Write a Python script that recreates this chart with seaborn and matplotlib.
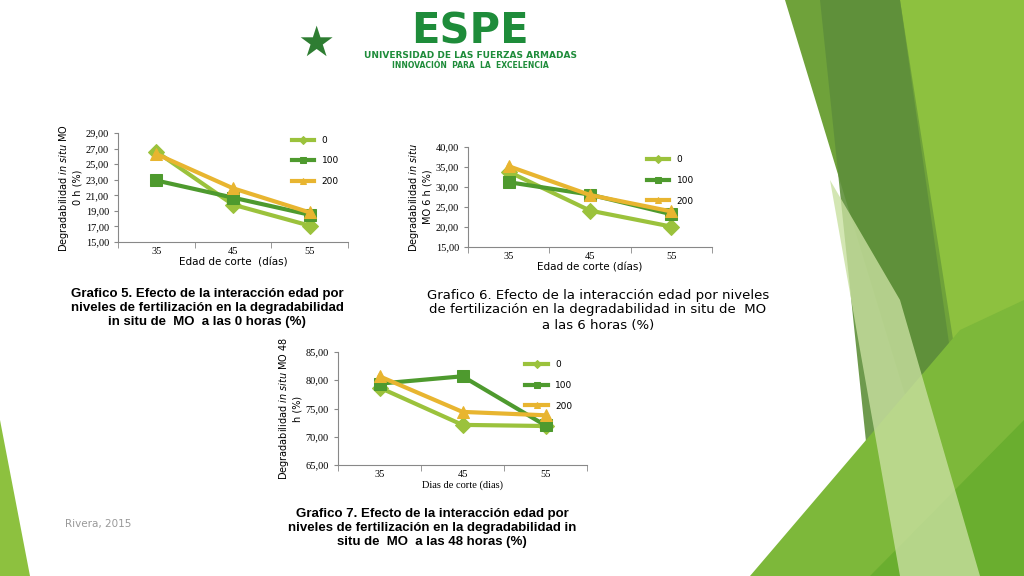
import matplotlib
matplotlib.use("Agg")
import matplotlib.pyplot as plt
import seaborn as sns
import pandas as pd
import numpy as np
from matplotlib.patches import Polygon

days = ["35", "45", "55"]
levels = ["0", "100", "200"]
g5_0 = [26.6, 19.8, 17.1]
g5_100 = [22.9, 20.7, 18.5]
g5_200 = [26.3, 21.9, 18.8]
g6_0 = [33.8, 24.1, 20.1]
g6_100 = [31.2, 28.1, 23.2]
g6_200 = [35.2, 28.0, 23.9]
g7_0 = [78.7, 72.1, 71.9]
g7_100 = [79.4, 80.7, 72.0]
g7_200 = [80.7, 74.4, 73.8]

colors = {"0": "#9BC23C", "100": "#4E9A2E", "200": "#E8B530"}
markers = {"0": "D", "100": "s", "200": "^"}

def frame(a, b, c):
    rows = []
    for lv, vals in zip(levels, [a, b, c]):
        for i, v in enumerate(vals):
            rows.append({"x": i, "y": v, "nivel": lv})
    return pd.DataFrame(rows)

fig = plt.figure(figsize=(10.24, 5.76), dpi=100)
fig.patch.set_facecolor("white")

deco = fig.add_axes([0, 0, 1, 1], zorder=-5)
deco.set_xlim(0, 1024); deco.set_ylim(576, 0); deco.axis("off")
for pts, col, al in [
    ([(785, 0), (1024, 0), (1024, 576), (960, 576)], "#6FA23A", 1.0),
    ([(900, 0), (1024, 0), (1024, 576), (990, 576)], "#8DC13F", 1.0),
    ([(820, 0), (900, 0), (960, 420), (930, 576), (880, 576)], "#5E8F3A", 0.9),
    ([(750, 576), (960, 330), (1024, 300), (1024, 576)], "#7DB83A", 1.0),
    ([(870, 576), (1024, 420), (1024, 576)], "#6AAE2F", 1.0),
    ([(0, 420), (30, 576), (0, 576)], "#8DC13F", 1.0),
    ([(830, 180), (900, 300), (980, 576), (900, 576)], "#C9E0A0", 0.8),
]:
    deco.add_patch(Polygon(pts, closed=True, facecolor=col, alpha=al, edgecolor="none"))

deco.text(316, 44, "\u2605", fontsize=30, color="#2E7D32", ha="center", va="center")
deco.text(470, 32, "ESPE", fontsize=30, fontweight="bold", color="#1E8C3A", ha="center", va="center")
deco.text(470, 56, "UNIVERSIDAD DE LAS FUERZAS ARMADAS", fontsize=6.5, fontweight="bold", color="#1E8C3A", ha="center", va="center")
deco.text(470, 66, "INNOVACIÓN  PARA  LA  EXCELENCIA", fontsize=5.5, fontweight="bold", color="#1E8C3A", ha="center", va="center")

def mk(rect, df, ylim, step, ylabel, xlabel, xlabfont, lg_anchor):
    ax = fig.add_axes(rect)
    sns.lineplot(data=df, x="x", y="y", hue="nivel", style="nivel", palette=colors,
                 markers=markers, dashes=False, lw=3, markersize=8, ax=ax,
                 markeredgecolor=None)
    ax.set_xlim(-0.5, 2.5)
    ax.set_ylim(*ylim)
    ticks = np.arange(ylim[0], ylim[1] + 0.01, step)
    ax.set_yticks(ticks)
    ax.set_yticklabels([f"{t:.2f}".replace(".", ",") for t in ticks], family="Liberation Serif", fontsize=7.5)
    ax.set_xticks([0, 1, 2])
    ax.set_xticklabels(days, family="Liberation Serif", fontsize=7.5)
    ax.set_xticks([-0.5, 0.5, 1.5, 2.5], minor=True)
    ax.tick_params(axis="x", which="major", length=0)
    ax.tick_params(axis="x", which="minor", length=4, color="#888")
    ax.tick_params(axis="y", length=3, color="#888")
    for s in ["top", "right"]:
        ax.spines[s].set_visible(False)
    for s in ["left", "bottom"]:
        ax.spines[s].set_color("#888")
    ax.set_ylabel(ylabel, fontsize=7, labelpad=2)
    ax.set_xlabel(xlabel, fontsize=7.5, labelpad=1, family=xlabfont)
    ax.legend(title=None, frameon=False, fontsize=6.5, loc="upper left",
              bbox_to_anchor=lg_anchor, handlelength=2.5, labelspacing=1.3, markerscale=0.5)
    return ax

W, H = 1024, 576
def rect(x0, x1, y0, y1):
    return [x0 / W, 1 - y1 / H, (x1 - x0) / W, (y1 - y0) / H]

mk(rect(118, 348, 133, 242), frame(g5_0, g5_100, g5_200), (15, 29), 2,
   "Degradabilidad $\\it{in\\ situ}$ MO\n0 h (%)", "Edad de corte  (días)", "DejaVu Sans", (0.72, 1.05))
mk(rect(468, 712, 147, 247), frame(g6_0, g6_100, g6_200), (15, 40), 5,
   "Degradabilidad $\\it{in\\ situ}$\nMO 6 h (%)", "Edad de corte (días)", "DejaVu Sans", (0.7, 1.0))
mk(rect(338, 587, 352, 465), frame(g7_0, g7_100, g7_200), (65, 85), 5,
   "Degradabilidad $\\it{in\\ situ}$ MO 48\nh (%)", "Dias de corte (dias)", "Liberation Serif", (0.72, 1.0))

deco.text(207, 308, "Grafico 5. Efecto de la interacción edad por\nniveles de fertilización en la degradabilidad\nin situ de  MO  a las 0 horas (%)",
          fontsize=9.5, fontweight="bold", ha="center", va="center", linespacing=1.2, family="Liberation Sans")
deco.text(598, 310, "Grafico 6. Efecto de la interacción edad por niveles\nde fertilización en la degradabilidad in situ de  MO\na las 6 horas (%)",
          fontsize=9.5, ha="center", va="center", linespacing=1.2)
deco.text(432, 528, "Grafico 7. Efecto de la interacción edad por\nniveles de fertilización en la degradabilidad in\nsitu de  MO  a las 48 horas (%)",
          fontsize=9.5, fontweight="bold", ha="center", va="center", linespacing=1.2, family="Liberation Sans")
deco.text(65, 524, "Rivera, 2015", fontsize=7.5, color="#999", ha="left", va="center")

fig.savefig("out.png", dpi=100)
